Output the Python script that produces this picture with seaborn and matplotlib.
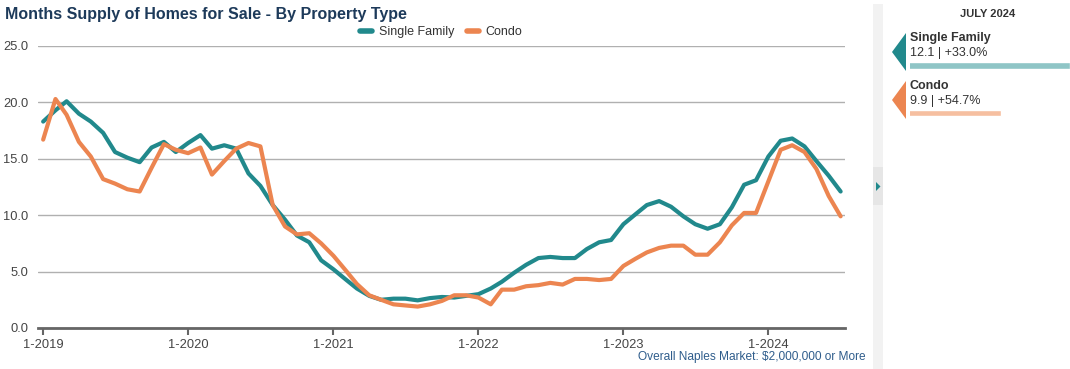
import seaborn as sns
import matplotlib.pyplot as plt
import matplotlib.dates as mdates
import numpy as np
import pandas as pd
from matplotlib.patches import Polygon, Rectangle

# Monthly months-supply values, Jan 2019 .. Jul 2024
months = pd.date_range('2019-01-01', '2024-07-01', freq='MS')
single_family = [
    18.3, 19.3, 20.1, 19.0, 18.3, 17.3, 15.6, 15.1, 14.7, 16.0, 16.5, 15.6,
    16.4, 17.1, 15.9, 16.2, 15.9, 13.7, 12.6, 10.9, 9.6, 8.2, 7.6, 6.0,
    5.2, 4.3, 3.5, 2.85, 2.5, 2.6, 2.6, 2.45, 2.65, 2.75, 2.7, 2.85,
    3.0, 3.5, 4.1, 4.9, 5.6, 6.2, 6.3, 6.2, 6.2, 7.0, 7.6, 7.8,
    9.2, 10.1, 10.9, 11.25, 10.75, 9.9, 9.2, 8.8, 9.2, 10.7, 12.7, 13.1,
    15.2, 16.6, 16.8, 16.1, 14.8, 13.5, 12.1,
]
condo = [
    16.7, 20.3, 18.9, 16.5, 15.2, 13.2, 12.8, 12.3, 12.1, 14.2, 16.3, 15.8,
    15.5, 16.0, 13.6, 14.8, 15.9, 16.4, 16.1, 10.9, 9.0, 8.3, 8.4, 7.5,
    6.4, 5.1, 3.9, 2.9, 2.5, 2.1, 2.0, 1.9, 2.1, 2.4, 2.9, 2.9,
    2.7, 2.1, 3.4, 3.4, 3.7, 3.8, 4.0, 3.85, 4.35, 4.35, 4.25, 4.35,
    5.5, 6.15, 6.7, 7.1, 7.3, 7.3, 6.5, 6.5, 7.6, 9.1, 10.2, 10.2,
    13.0, 15.8, 16.2, 15.6, 14.1, 11.7, 9.9,
]
series_names = ['Single Family', 'Condo']
latest_values = [12.1, 9.9]
latest_changes = ['+33.0%', '+54.7%']
y_ticks = [0, 5, 10, 15, 20, 25]

TEAL = '#21898c'
ORANGE = '#ec8550'
TEAL_LIGHT = '#8fc5c6'
ORANGE_LIGHT = '#f6bfa0'

df = pd.DataFrame({
    'month': np.concatenate([months, months]),
    'value': single_family + condo,
    'type': ['Single Family'] * len(months) + ['Condo'] * len(months),
})

sns.set_style('white')
plt.rcParams['font.family'] = ['Liberation Sans', 'DejaVu Sans']

W, H = 1070, 369
fig = plt.figure(figsize=(W / 100, H / 100), dpi=100)

def px_axes(x0, y0, x1, y1):
    # axes placed with pixel box (top-left origin)
    return fig.add_axes([x0 / W, 1 - y1 / H, (x1 - x0) / W, (y1 - y0) / H])

# Main chart
ax = px_axes(38, 46, 845, 328)
sns.lineplot(data=df, x='month', y='value', hue='type', hue_order=series_names,
             palette=[TEAL, ORANGE], linewidth=3, ax=ax, legend=False)
ax.set_ylim(0, 25)
ax.set_xlim(pd.Timestamp('2018-12-19'), pd.Timestamp('2024-07-12'))
ax.set_yticks(y_ticks)
ax.set_yticklabels([f'{v:.1f}' for v in y_ticks], fontsize=9.3, color='#444444')
ax.yaxis.grid(True, color='#b0b0b0', linewidth=1)
ax.set_axisbelow(True)
ax.xaxis.set_major_locator(mdates.MonthLocator(bymonth=1))
ax.xaxis.set_major_formatter(mdates.DateFormatter('1-%Y'))
ax.tick_params(axis='x', direction='out', length=5, width=1.5, color='#666666',
               labelsize=9.3, labelcolor='#444444', pad=3, bottom=True)
ax.tick_params(axis='y', length=0, pad=7)
for s in ['top', 'right', 'left']:
    ax.spines[s].set_visible(False)
ax.spines['bottom'].set_color('#666666')
ax.spines['bottom'].set_linewidth(2)
ax.set_xlabel('')
ax.set_ylabel('')

# Legend
handles = [plt.Line2D([], [], color=c, linewidth=4) for c in [TEAL, ORANGE]]
fig.legend(handles, series_names, loc='center', bbox_to_anchor=(441 / W, 1 - 32 / H),
           ncol=2, frameon=False, fontsize=9, handlelength=1.0, handletextpad=0.5,
           columnspacing=1.0, labelcolor='#333333')

# Title and footnote
fig.text(5 / W, 1 - 14 / H, 'Months Supply of Homes for Sale - By Property Type',
         fontsize=11.5, fontweight='bold', color='#1d3a5a', va='center', ha='left')
fig.text(866 / W, 1 - 357 / H, 'Overall Naples Market: $2,000,000 or More',
         fontsize=8.6, color='#2f5d8c', va='center', ha='right')

# Decoration overlay (pixel coordinates)
deco = fig.add_axes([0, 0, 1, 1], zorder=-1)
deco.set_xlim(0, W)
deco.set_ylim(H, 0)
deco.axis('off')
deco.add_patch(Rectangle((873, 4), 10, H - 4, color='#f2f2f2', lw=0))
deco.add_patch(Rectangle((873, 167), 10, 38, color='#e6e6e6', lw=0))
deco.add_patch(Polygon([(876, 182), (876, 191), (880.5, 186.5)], color=TEAL, lw=0))

side = fig.add_axes([0, 0, 1, 1], zorder=2)
side.set_xlim(0, W)
side.set_ylim(H, 0)
side.axis('off')
side.patch.set_alpha(0)
side.text(988, 14, 'JULY 2024', fontsize=8, fontweight='bold', color='#333333',
          ha='center', va='center')
for k, (name, val, chg, col) in enumerate(zip(series_names, latest_values,
                                              latest_changes, [TEAL, ORANGE])):
    top = 33 + 48 * k
    side.add_patch(Polygon([(906, top), (906, top + 38), (892, top + 19)], color=col, lw=0))
    side.text(910, top + 5, name, fontsize=9, fontweight='bold', color='#333333',
              ha='left', va='center')
    side.text(910, top + 20, f'{val} | {chg}', fontsize=9, color='#333333',
              ha='left', va='center')

# Bars for latest values
bax = px_axes(910, 50, 1070, 130)
bax.barh([0, 1], latest_values, height=0.14, color=[TEAL_LIGHT, ORANGE_LIGHT])
bax.set_xlim(7.0, 12.1)
bax.set_ylim(1.358, -0.326)
bax.axis('off')

fig.savefig('out.png', dpi=100)
